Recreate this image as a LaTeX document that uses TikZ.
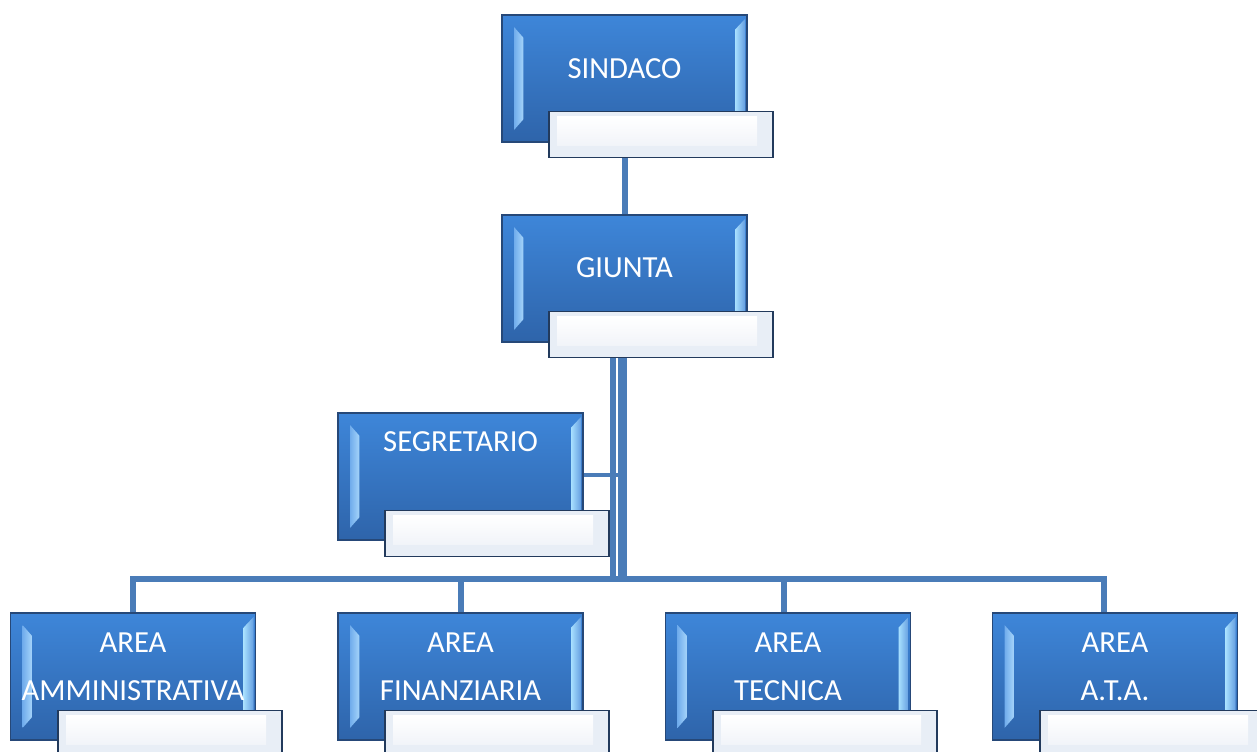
\documentclass[tikz,border=0pt]{standalone}
\usepackage{fontspec}
\setmainfont{Carlito}
\usetikzlibrary{calc,backgrounds}
\definecolor{conn}{RGB}{74,124,184}
\definecolor{boxtop}{RGB}{62,134,217}
\definecolor{boxbot}{RGB}{46,100,170}
\definecolor{boxedge}{RGB}{38,72,120}
\definecolor{bevL}{RGB}{112,172,236}
\definecolor{bevLi}{RGB}{165,212,250}
\definecolor{bevR}{RGB}{168,224,255}
\definecolor{lbledge}{RGB}{34,58,92}
\definecolor{lblfill}{RGB}{232,238,246}
\definecolor{lblin}{RGB}{241,244,249}
\tikzset{
  posbox/.style={draw=boxedge, line width=1.2pt, top color=boxtop, bottom color=boxbot,
    minimum width=183.75pt, minimum height=95.25pt, inner sep=0pt,
    path picture={
      \path (path picture bounding box.north west) coordinate (pNW)
            (path picture bounding box.north east) coordinate (pNE)
            (path picture bounding box.south west) coordinate (pSW)
            (path picture bounding box.south east) coordinate (pSE);
      \shade[left color=bevL, right color=bevLi]
        ($(pNW)+(9pt,-9pt)$) -- ($(pNW)+(16pt,-17pt)$) -- ($(pSW)+(16pt,17pt)$) -- ($(pSW)+(9pt,9pt)$) -- cycle;
      \shade[left color=bevR, right color=boxtop!80!white]
        ($(pNE)+(-9pt,-11pt)$) -- ($(pNE)+(-1.5pt,-3pt)$) -- ($(pSE)+(-1.5pt,3pt)$) -- ($(pSE)+(-9pt,11pt)$) -- cycle;
    }},
  lblbox/.style={draw=lbledge, line width=1.2pt, fill=lblfill,
    minimum width=168pt, minimum height=34.5pt, inner sep=0pt,
    path picture={
      \path (path picture bounding box.north west) coordinate (pNW)
            (path picture bounding box.south east) coordinate (pSE);
      \shade[top color=white, bottom color=lblin] ($(pNW)+(6pt,-4pt)$) rectangle ($(pSE)+(-12pt,9pt)$);
    }},
  postext/.style={text=white, font=\fontsize{23}{36}\selectfont, align=center, inner sep=0pt},
  conline/.style={draw=conn, line width=4.5pt},
}
\begin{document}
\begin{tikzpicture}[x=0.75pt,y=-0.75pt]
\useasboundingbox (0,0) rectangle (1257,751);
\clip (0,0) rectangle (1257,751);

\node[posbox] (sindaco) at (624.5,78.5) {};
\node[lblbox] (sindacoL) at (661,134.5) {};
\node[postext] (sindacoT) at (624.5,69) {SINDACO};

\node[posbox] (giunta) at (624.5,278.5) {};
\node[lblbox] (giuntaL) at (661,334.5) {};
\node[postext] (giuntaT) at (624.5,267.5) {GIUNTA};

\node[posbox] (segr) at (460.5,476.5) {};
\node[lblbox] (segrL) at (497,533.5) {};
\node[postext] (segrT) at (460.5,441.7) {SEGRETARIO};

\node[posbox] (amm) at (133,676.5) {};
\node[postext] (ammT) at (133,667) {AREA\\AMMINISTRATIVA};
\node[lblbox] (ammL) at (170,733.5) {};

\node[posbox] (fin) at (460.5,676.5) {};
\node[postext] (finT) at (460.5,667) {AREA\\FINANZIARIA};
\node[lblbox] (finL) at (497,733.5) {};

\node[posbox] (tec) at (788,676.5) {};
\node[postext] (tecT) at (788,667) {AREA\\TECNICA};
\node[lblbox] (tecL) at (825,733.5) {};

\node[posbox] (ata) at (1115,676.5) {};
\node[postext] (ataT) at (1115,667) {AREA\\A.T.A.};
\node[lblbox] (ataL) at (1152,733.5) {};

\coordinate (bus) at (617.5,579);

\begin{scope}[on background layer]
\fill[white] (0,0) rectangle (1257,751);
\draw[conline] (sindaco.south) -- (giunta.north);
\draw[conline] (amm.north) |- (bus) -| ([xshift=-8.25pt]ata.north);
\draw[conline] (fin.north) -- (fin.north |- bus);
\draw[conline] ([xshift=-3pt]tec.north) -- ([xshift=-3pt]tec.north |- bus);
\draw[conline, line width=3pt] ([yshift=1.5pt]segr.east) -- ([xshift=-1pt,yshift=1.5pt]segr.east -| giunta.south);
\draw[conline] ([xshift=-8.625pt]giunta.south) -- ([xshift=-8.625pt]giunta.south |- bus);
\draw[conline, line width=6.75pt] ([xshift=-1.5pt]giunta.south) -- ([xshift=-1.5pt]giunta.south |- bus);
\end{scope}
\end{tikzpicture}
\end{document}
